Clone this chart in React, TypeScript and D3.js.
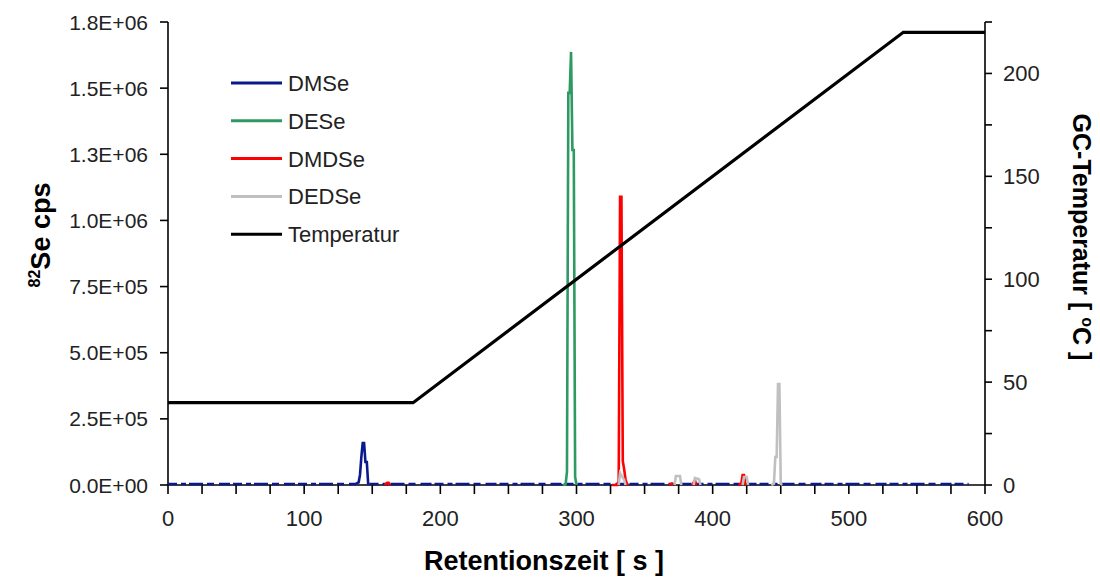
import React, { useEffect, useRef } from 'react';
import * as d3 from 'd3';

// retention time [s] / 82Se cps
const dmse: [number, number][] = [
  [0, 4000], [138, 4000], [140, 10000], [141, 38000], [142, 106000], [143, 159000],
  [144, 159000], [145, 87000], [146, 87000], [147, 5000], [148, 4000], [588, 4000],
];
const dese: [number, number][] = [
  [290, 0], [292, 2000], [293, 50000], [294, 1482000], [295, 1482000], [296, 1637000],
  [297, 1266000], [298, 1266000], [299, 30000], [300, 0],
];
const dmdse: [number, number][] = [
  [159, 0], [161, 8000], [162, 8000], [163, 0], [164, NaN],
  [326, 0], [330, 0], [331, 15000], [332, 1089000], [333, 1089000], [334, 90000],
  [335, 60000], [336, 20000], [337, 5000], [338, 0], [339, NaN],
  [368, 0], [370, 5000], [371, 0], [372, NaN],
  [385, 0], [387, 18000], [388, 0], [389, NaN],
  [419, 0], [421, 5000], [422, 38000], [423, 38000], [424, 5000], [425, 0],
];
const dedse: [number, number][] = [
  [331, 0], [332, 45000], [335, 20000], [336, 0], [337, NaN],
  [372, 0], [373, 34000], [376, 34000], [377, 0], [378, NaN],
  [386, 0], [387, 27000], [390, 22000], [391, 0], [392, NaN],
  [422, 0], [423, 30000], [425, 30000], [426, 0], [427, NaN],
  [443, 0], [445, 5000], [446, 106000], [447, 106000], [448, 382000], [449, 382000],
  [450, 5000], [451, 0],
];
// GC oven program [s, °C]
const temperatur: [number, number][] = [[0, 40], [180, 40], [540, 220], [600, 220]];

const legendNames = ['DMSe', 'DESe', 'DMDSe', 'DEDSe', 'Temperatur'];
const legendColors = ['#0a1a8c', '#2e9a62', '#ff0000', '#c0c0c0', '#000000'];

const leftTicks = [0, 250000, 500000, 750000, 1000000, 1250000, 1500000, 1750000];
const leftTickLabels = ['0.0E+00', '2.5E+05', '5.0E+05', '7.5E+05', '1.0E+06', '1.3E+06', '1.5E+06', '1.8E+06'];
const rightTicks = [0, 25, 50, 75, 100, 125, 150, 175, 200, 225];
const rightTickLabels = ['0', '', '50', '', '100', '', '150', '', '200', ''];
const xTicks = d3.range(0, 601, 25);
const xTickLabels = ['0', '100', '200', '300', '400', '500', '600'];

const App = () => {
  const svgRef = useRef<SVGSVGElement>(null);

  useEffect(() => {
    const svg = d3.select(svgRef.current);
    svg.selectAll('*').remove();

    const left = 168, right = 985, top = 22, bottom = 485;
    const font = '"Liberation Sans", Arial, sans-serif';

    const x = d3.scaleLinear().domain([0, 600]).range([left, right]);
    const y = d3.scaleLinear().domain([0, 1750000]).range([bottom, top]);
    const yT = d3.scaleLinear().domain([0, 225]).range([bottom, top]);

    svg.append('rect').attr('width', 1100).attr('height', 577).attr('fill', '#fff');

    // axes
    const ax = svg.append('g').attr('stroke', '#000').attr('stroke-width', 1.6);
    ax.append('line').attr('x1', left).attr('x2', left).attr('y1', top).attr('y2', bottom);
    ax.append('line').attr('x1', right).attr('x2', right).attr('y1', top).attr('y2', bottom);
    ax.append('line').attr('x1', left).attr('x2', right).attr('y1', bottom).attr('y2', bottom);
    leftTicks.forEach(v => {
      ax.append('line').attr('x1', left - 8).attr('x2', left).attr('y1', y(v)).attr('y2', y(v));
    });
    rightTicks.forEach(v => {
      ax.append('line').attr('x1', right).attr('x2', right + 7).attr('y1', yT(v)).attr('y2', yT(v));
    });
    xTicks.forEach(v => {
      ax.append('line').attr('x1', x(v)).attr('x2', x(v)).attr('y1', bottom).attr('y2', bottom + 9);
    });

    const txt = svg.append('g').attr('font-family', font).attr('fill', '#222');
    leftTicks.forEach((v, i) => {
      txt.append('text').attr('x', 148).attr('y', y(v)).attr('dy', '0.36em')
        .attr('text-anchor', 'end').attr('font-size', 21).text(leftTickLabels[i]);
    });
    rightTicks.forEach((v, i) => {
      if (!rightTickLabels[i]) return;
      txt.append('text').attr('x', 1003).attr('y', yT(v)).attr('dy', '0.36em')
        .attr('font-size', 22).text(rightTickLabels[i]);
    });
    xTickLabels.forEach(l => {
      txt.append('text').attr('x', x(+l)).attr('y', 526)
        .attr('text-anchor', 'middle').attr('font-size', 22).text(l);
    });

    // titles
    const lt = txt.append('text').attr('transform', 'translate(50,235) rotate(-90)')
      .attr('text-anchor', 'middle').attr('font-weight', 'bold').attr('font-size', 27).attr('fill', '#000');
    lt.append('tspan').attr('font-size', 16).attr('dy', -10).text('82');
    lt.append('tspan').attr('dy', 10).text('Se cps');

    const rt = txt.append('text').attr('transform', 'translate(1073,237) rotate(90)')
      .attr('text-anchor', 'middle').attr('font-weight', 'bold').attr('font-size', 25).attr('fill', '#000');
    rt.append('tspan').text('GC-Temperatur [ ');
    rt.append('tspan').attr('font-size', 16).attr('dy', -9).text('o');
    rt.append('tspan').attr('dy', 9).text('C ]');

    txt.append('text').attr('x', 544).attr('y', 570).attr('text-anchor', 'middle')
      .attr('font-weight', 'bold').attr('font-size', 27).attr('fill', '#000').text('Retentionszeit [ s ]');

    // series
    const line = d3.line<[number, number]>()
      .defined(d => !isNaN(d[1]))
      .x(d => x(d[0])).y(d => y(d[1]));

    const baseLine = d3.line<[number, number]>()
      .defined(d => d[0] <= 138 || d[0] >= 148)
      .x(d => x(d[0])).y(d => y(d[1]));
    const peakLine = d3.line<[number, number]>()
      .defined(d => d[0] >= 138 && d[0] <= 148)
      .x(d => x(d[0])).y(d => y(d[1]));

    svg.append('path').attr('d', baseLine(dmse)).attr('fill', 'none')
      .attr('stroke', legendColors[0]).attr('stroke-width', 2.5)
      .attr('stroke-dasharray', '9 4 5 3 14 4 7 5 11 3');
    svg.append('path').attr('d', peakLine(dmse)).attr('fill', 'none')
      .attr('stroke', legendColors[0]).attr('stroke-width', 2.6);

    [dese, dmdse, dedse].forEach((s, i) => {
      svg.append('path').attr('d', line(s)).attr('fill', 'none')
        .attr('stroke', legendColors[i + 1]).attr('stroke-width', 2.6);
    });

    const tLine = d3.line<[number, number]>().x(d => x(d[0])).y(d => yT(d[1]));
    svg.append('path').attr('d', tLine(temperatur)).attr('fill', 'none')
      .attr('stroke', '#000').attr('stroke-width', 3.2);

    // legend
    const legend = svg.append('g').selectAll('g')
      .data(legendNames)
      .enter().append('g')
      .attr('transform', (d, i) => `translate(231,${83 + i * 37.8})`);
    legend.append('line').attr('x1', 0).attr('x2', 51).attr('y1', 0).attr('y2', 0)
      .attr('stroke', (d, i) => legendColors[i]).attr('stroke-width', 3);
    legend.append('text').attr('x', 57).attr('dy', '0.36em')
      .attr('font-family', font).attr('font-size', 22).attr('fill', '#222')
      .text(d => d);
  }, []);

  return (
    <svg ref={svgRef} width={1100} height={577}
      style={{ position: 'absolute', left: 0, top: 0 }} />
  );
};

export default App;
